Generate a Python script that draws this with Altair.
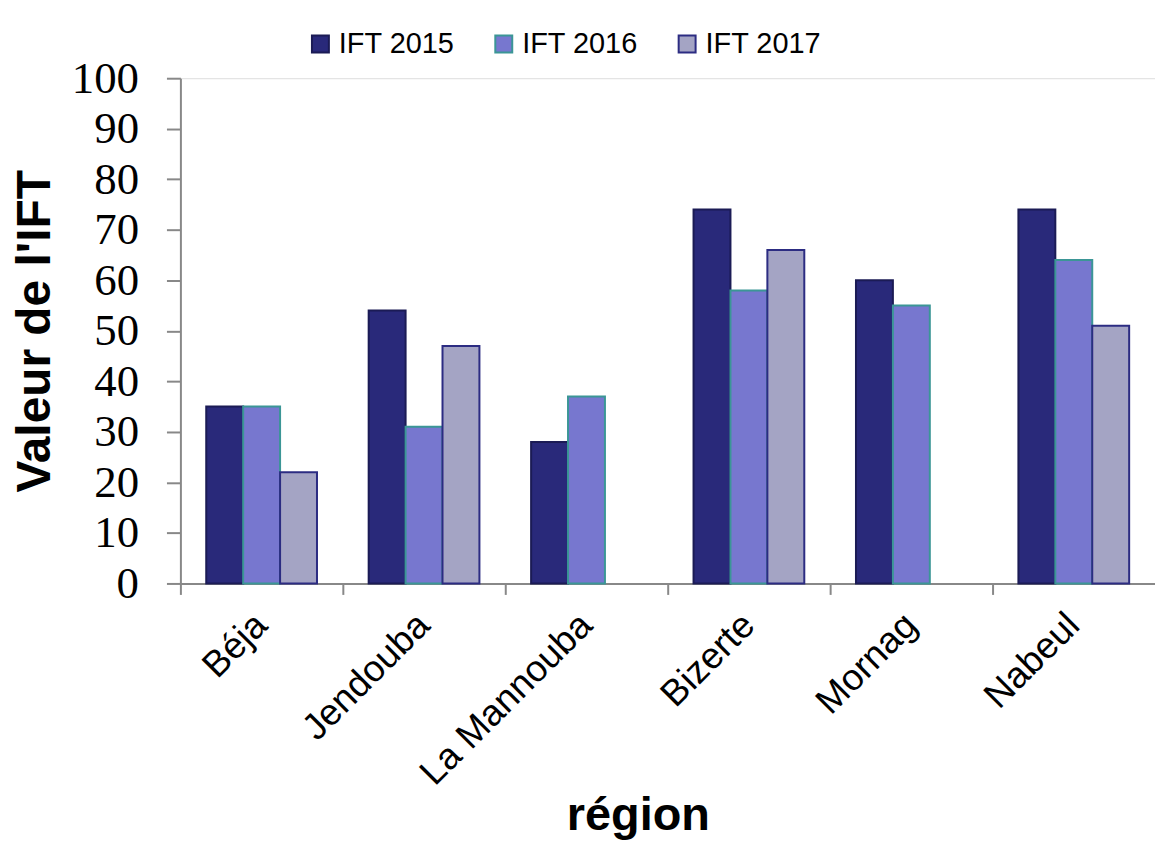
import altair as alt
import pandas as pd

regions = ["Béja", "Jendouba", "La Mannouba", "Bizerte", "Mornag", "Nabeul"]
series = ["IFT 2015", "IFT 2016", "IFT 2017"]
ift_2015 = [35, 54, 28, 74, 60, 74]
ift_2016 = [35, 31, 37, 58, 55, 64]
ift_2017 = [22, 47, None, 66, None, 51]

fills = ["#29297A", "#7777CF", "#A4A4C4"]
strokes = ["#1B1B55", "#3B9696", "#2C2C82"]

rows = []
for vals, s in zip([ift_2015, ift_2016, ift_2017], series):
    for r, v in zip(regions, vals):
        if v is not None:
            rows.append({"region": r, "serie": s, "valeur": v})
df = pd.DataFrame(rows)

legend_opts = dict(
    title=None,
    orient="none",
    direction="horizontal",
    legendX=126,
    legendY=-49,
    symbolType="square",
    symbolSize=289,
    symbolStrokeWidth=2,
    labelFont="Liberation Sans",
    labelFontSize=29,
    labelColor="black",
    labelOffset=4,
    columnPadding=34,
    padding=0,
)

bars = alt.Chart(df).mark_bar(strokeWidth=2).encode(
    x=alt.X(
        "region:N",
        sort=regions,
        scale=alt.Scale(paddingInner=0, paddingOuter=0),
        axis=alt.Axis(
            title="région",
            titleFont="Liberation Sans",
            titleFontWeight="bold",
            titleFontSize=47,
            titleColor="black",
            titleX=459,
            titleY=247,
            titleAlign="center",
            titleBaseline="alphabetic",
            labelAngle=-45,
            labelAlign="right",
            labelBaseline="middle",
            labelFont="Liberation Sans",
            labelFontSize=37,
            labelColor="black",
            labelPadding=25,
            labelLimit=0,
            bandPosition=0,
            tickSize=11,
            tickWidth=2,
            tickColor="#888888",
            domainColor="#888888",
            domainWidth=2,
            grid=False,
        ),
    ),
    xOffset=alt.XOffset(
        "serie:N",
        sort=series,
        scale=alt.Scale(paddingInner=0, paddingOuter=0.70),
    ),
    y=alt.Y(
        "valeur:Q",
        scale=alt.Scale(domain=[0, 100], nice=False),
        axis=alt.Axis(
            title="Valeur de l'IFT",
            titleFont="Liberation Sans",
            titleFontWeight="bold",
            titleFontSize=48,
            titleColor="black",
            titleAngle=-90,
            titleX=-131,
            titleBaseline="alphabetic",
            values=list(range(0, 101, 10)),
            labelFont="Liberation Serif",
            labelFontSize=45,
            labelColor="black",
            labelPadding=28,
            tickSize=14,
            tickWidth=2,
            tickColor="#888888",
            domainColor="#888888",
            domainWidth=2,
            grid=False,
        ),
    ),
    fill=alt.Fill(
        "serie:N",
        sort=series,
        scale=alt.Scale(domain=series, range=fills),
        legend=alt.Legend(**legend_opts),
    ),
    stroke=alt.Stroke(
        "serie:N",
        sort=series,
        scale=alt.Scale(domain=series, range=strokes),
        legend=alt.Legend(**legend_opts),
    ),
).properties(
    width=978,
    height=507,
    autosize=alt.AutoSizeParams(type="none"),
    padding={"left": 173, "top": 69, "right": 0, "bottom": 258},
).configure_view(stroke=None).configure(background="white")

chart = bars
chart.save("out.html", embed_options={"renderer": "svg", "actions": False})
